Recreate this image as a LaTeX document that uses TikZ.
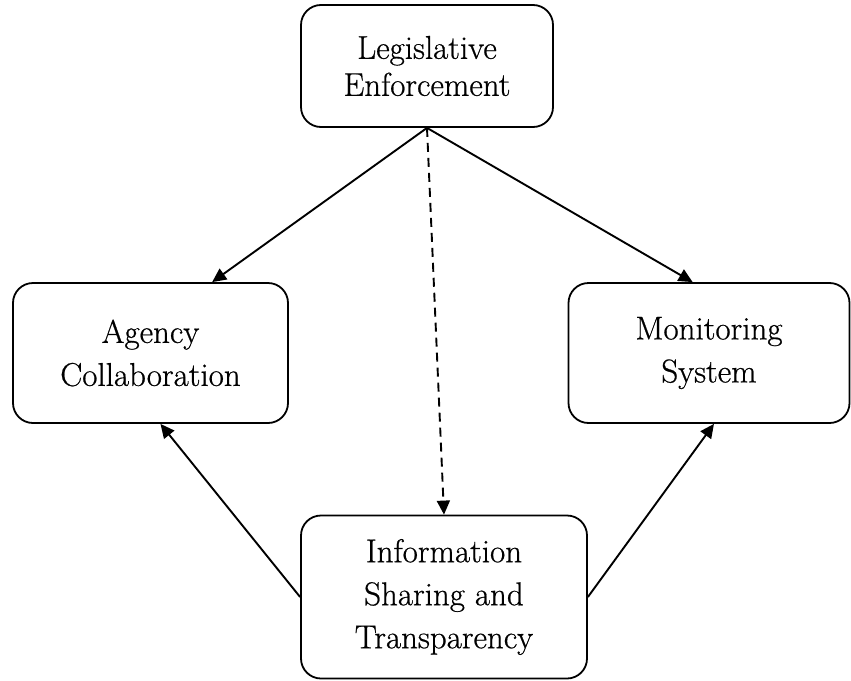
\documentclass[tikz,border=0pt]{standalone}
\usepackage{fontspec}
\setmainfont{Latin Modern Roman}[FakeBold=0.6]
\usetikzlibrary{arrows.meta}

\begin{document}
\begin{tikzpicture}[
    x=1pt, y=-1pt,
    box/.style={draw,rounded corners=20pt,line width=1.8pt,align=center,
        inner sep=0pt,font=\fontsize{33}{43}\selectfont},
    arrow/.style={line width=1.9pt,-{Triangle[length=14pt,width=13pt]}}
]
    \useasboundingbox (0,0) rectangle (851,680);

    % Top, side and bottom boxes
    \node[box,minimum width=252pt,minimum height=122pt,
        font=\fontsize{33}{37}\selectfont] (leg) at (427,66) {Legislative\\Enforcement};
    \node[box,minimum width=275pt,minimum height=140pt] (agency) at (150.5,353) {Agency\\Collaboration};
    \node[box,minimum width=281pt,minimum height=140pt] (monitor) at (709,353) {Monitoring\\System};
    \node[box,minimum width=286pt,minimum height=163pt] (info) at (444,597) {Information\\Sharing and\\Transparency};

    % Connections
    \draw[arrow] (leg.south) -- (agency.49);
    \draw[arrow] (leg.south) -- (monitor.103);
    \draw[arrow,dash pattern=on 9pt off 6pt] (leg.south) -- (info.north);
    \draw[arrow] (info.west) -- (agency.-82);
    \draw[arrow] (info.east) -- (monitor.-86);
\end{tikzpicture}
\end{document}
